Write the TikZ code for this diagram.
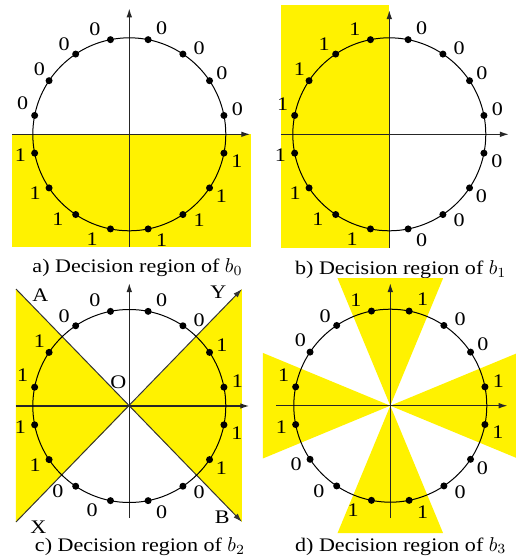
\documentclass[tikz,border=0pt]{standalone}
\usepackage{fontspec}
\setmainfont[FakeStretch=1.15]{Liberation Serif}
\usetikzlibrary{arrows.meta}

\tikzset{
  axis/.style={line width=0.65pt, black!85, -{Latex[length=4.5pt,width=2.8pt]}},
  divider/.style={line width=0.5pt, black!80, -{Latex[length=4.5pt,width=2.8pt]}},
  region/.style={fill=yellow},
  ring/.style={line width=0.5pt},
  ptdot/.style={circle, fill=black, inner sep=0pt, minimum size=3.5pt},
  bit/.style={inner sep=0pt, font=\fontsize{9.6}{11}\selectfont},
  caption/.style={anchor=base, inner sep=0pt, font=\fontsize{9.6}{11}\selectfont},
}

% 16 points on the circle, #1 = prefix of the names, #2 = the bits
\newcommand{\pskring}[2]{%
  \draw[ring] (0,0) circle (96.5);
  \foreach \v [count=\k from 0] in {#2} {
    \pgfmathsetmacro{\pa}{11.25+22.5*\k}
    \pgfmathsetmacro{\la}{{13,33.5,51,73,108,126,144,164,191,212,230,250.5,287,309,326,346}[\k]}
    \node[ptdot] (#1p\k) at (\pa:96.5) {};
    \node[bit] (#1b\k) at (\la:111) {\v};
  }}

\begin{document}
\begin{tikzpicture}[x=0.5pt,y=0.5pt]
  \useasboundingbox (0,0) rectangle (516,559);

  % a) b0
  \begin{scope}[shift={(129.3,424.7)}]
    \fill[region] (-117.3,0) rectangle (121.4,-112.7);
    \draw[axis] (-117.3,0) -- (121,0);
    \draw[axis] (0,-112.7) -- (0,126);
    \pskring{a}{0,0,0,0,0,0,0,0,1,1,1,1,1,1,1,1}
    \node[caption] (capa) at (8.2,-138.4) {a) Decision region of $b_0$};
  \end{scope}

  % b) b1
  \begin{scope}[shift={(389.3,424.7)}]
    \fill[region] (-108.3,129.3) rectangle (0,-113.7);
    \draw[axis] (-108.3,0) -- (119.7,0);
    \draw[axis] (0,-113.7) -- (0,124.3);
    \pskring{b}{0,0,0,0,1,1,1,1,1,1,1,1,0,0,0,0}
    \node[caption] (capb) at (11.5,-139.7) {b) Decision region of $b_1$};
  \end{scope}

  % c) b2
  \begin{scope}[shift={(129.3,153)}]
    \coordinate (O) at (0,0);
    \coordinate (A) at (-113.3,117);
    \coordinate (B) at (112.7,-116);
    \coordinate (X) at (-113.3,-116);
    \coordinate (Y) at (112.7,117);
    \fill[region] (A) -- (O) -- (X) -- cycle;
    \fill[region] (Y) -- (O) -- (B) -- cycle;
    \draw[axis] (-113.3,0) -- (120,0);
    \draw[axis] (0,-112) -- (0,123);
    \draw[divider] (A) -- (B);
    \draw[divider] (X) -- (Y);
    \pskring{c}{1,1,0,0,0,0,1,1,1,1,0,0,0,0,1,1}
    \node[bit] (la) at (-89,111) {A};
    \node[bit] (ly) at (89,114) {Y};
    \node[bit] (lx) at (-91,-121) {X};
    \node[bit] (lb) at (93,-111) {B};
    \node[bit] (lo) at (-11,24) {O};
    \node[caption] (capc) at (10.7,-145.3) {c) Decision region of $b_2$};
  \end{scope}

  % d) b3
  \begin{scope}[shift={(390.3,153.3)}]
    \foreach \w in {0,90,180,270}
      \fill[region] (0,0) -- (\w-22.5:138) -- (\w+22.5:138) -- cycle;
    \draw[axis] (-114.3,0) -- (117.4,0);
    \draw[axis] (0,-112.3) -- (0,122.7);
    \pskring{d}{1,0,0,1,1,0,0,1,1,0,0,1,1,0,0,1}
    \node[caption] (capd) at (10.5,-145.3) {d) Decision region of $b_3$};
  \end{scope}
\end{tikzpicture}
\end{document}
